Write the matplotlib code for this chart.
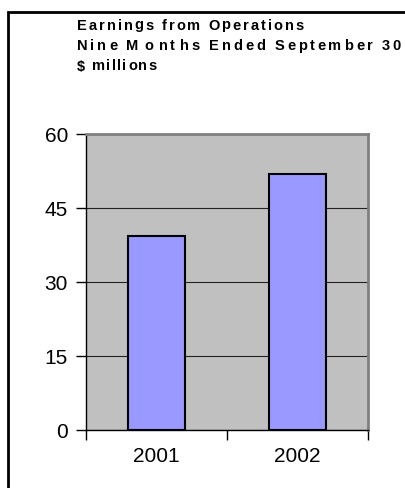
import matplotlib.pyplot as plt
from matplotlib.patches import Rectangle

years = ['2001', '2002']
earnings = [39.3, 51.9]
y_ticks = [0, 15, 30, 45, 60]
title_lines = ['Earnings from Operations', 'Nine Months Ended September 30', '$ millions']

plt.rcParams['font.family'] = ['Liberation Sans', 'DejaVu Sans']

fig = plt.figure(figsize=(4.06, 4.88), dpi=100)
W, H = 406, 488

# outer frame (only top/left visible, rest runs off the picture)
fig.patches.append(Rectangle((8 / W, -0.1), 1.2, (H - 12) / H + 0.1, transform=fig.transFigure,
                             fill=False, edgecolor='black', linewidth=2))

ax = fig.add_axes([86 / W, 1 - 430 / H, 282 / W, 296 / H])
ax.set_facecolor('#C0C0C0')

x = range(len(years))
ax.bar(x, earnings, width=0.4, color='#9999FF', edgecolor='black', linewidth=1.5, zorder=3)

ax.set_xlim(-0.5, len(years) - 0.5)
ax.set_ylim(0, 60)
ax.set_yticks(y_ticks)
ax.yaxis.grid(True, color='#222222', linewidth=0.8, zorder=1)
ax.set_axisbelow(True)

ax.set_xticks([-0.5, 0.5, 1.5])
ax.set_xticklabels([])
ax.set_xticks(list(x), minor=True)
ax.set_xticklabels(years, minor=True)
ax.tick_params(axis='x', which='major', direction='out', length=7, width=1, color='black')
ax.tick_params(axis='x', which='minor', length=0, pad=12, labelsize=15)
ax.tick_params(axis='y', direction='out', length=7, width=1, pad=6, labelsize=15)

for s in ['left', 'bottom']:
    ax.spines[s].set_color('black')
    ax.spines[s].set_linewidth(1)
for s in ['top', 'right']:
    ax.spines[s].set_color('#808080')
    ax.spines[s].set_linewidth(2)

# title with wide letter spacing, placed char by char
renderer = fig.canvas.get_renderer()
fs = 10.5
space_w = 3.5
line_ends = [304, 401, 157]   # right edge of each line, px
baselines = [29.5, 50, 70.5]
for i, line in enumerate(title_lines):
    widths = []
    for ch in line:
        if ch == ' ':
            widths.append(space_w)
        else:
            t = fig.text(0, 0, ch, fontsize=fs, fontweight='bold')
            widths.append(t.get_window_extent(renderer).width)
            t.remove()
    extra = [0.0] * len(line)
    if i == 1:
        # odd gaps inside "Months" in the original
        extra[5] = 3.0   # after M
        extra[6] = 2.5   # after o
        extra[8] = 2.5   # after t
    track = (line_ends[i] - 77 - sum(widths) - sum(extra)) / (len(line) - 1)
    xpos = 77
    for j, ch in enumerate(line):
        if ch != ' ':
            fig.text(xpos / W, 1 - baselines[i] / H, ch, fontsize=fs, fontweight='bold',
                     va='baseline', ha='left')
        xpos += widths[j] + track + extra[j]

fig.savefig('out.png', dpi=100)
